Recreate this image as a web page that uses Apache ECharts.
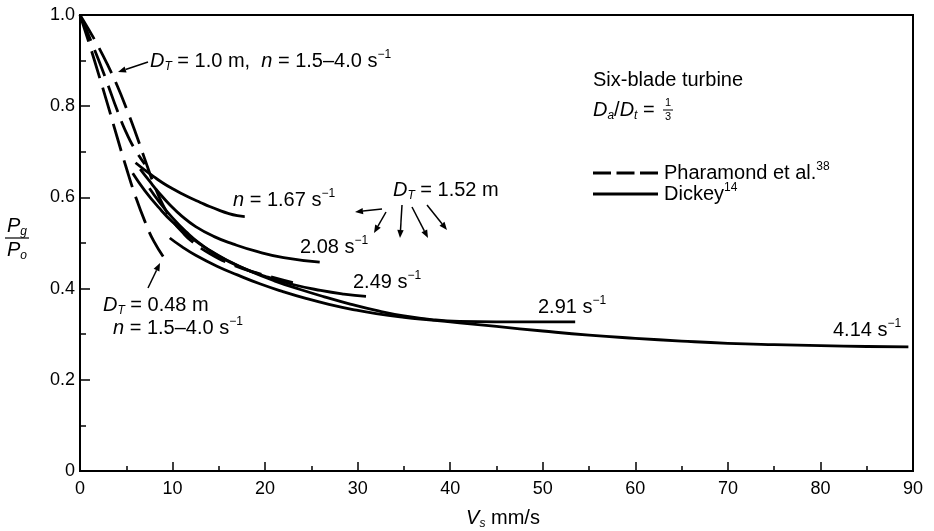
<!DOCTYPE html>
<html>
<head>
<meta charset="utf-8">
<script src="https://cdn.jsdelivr.net/npm/echarts@6/dist/echarts.min.js"></script>
<style>html,body{margin:0;padding:0;background:#fff}#c{width:934px;height:531px}</style>
</head>
<body>
<div id="c"></div>
<script>
// ---- data (Vs mm/s, Pg/Po) ----
const xTicks = [0,10,20,30,40,50,60,70,80,90];
const yTicks = [0,0.2,0.4,0.6,0.8,1.0];
// Pharamond et al. (dashed)
const pharamond048 = [[0,1.0],[1,0.937],[2,0.871],[3,0.803],[4,0.733],[5,0.665],[6,0.602],[7,0.548],[8,0.503],[9.4,0.458]];
const pharamond10a = [[0,1.0],[1,0.966],[2,0.93],[3,0.89],[4,0.846],[5,0.796],[6,0.742],[7,0.684],[8,0.628],[9,0.582],[10,0.549],[11,0.525],[12,0.505],[14,0.477],[16.5,0.452],[19,0.435],[23,0.413]];
const pharamond10b = [[0,1.0],[1,0.952],[2,0.902],[3,0.848],[4,0.792],[5,0.742],[6,0.703],[7,0.673]];
// Dickey (solid), D_T = 1.52 m
const dickey167 = [[6.0,0.676],[7,0.66],[8,0.645],[9,0.631],[10,0.619],[11,0.608],[12,0.598],[13,0.589],[14,0.58],[15,0.572],[16,0.565],[17,0.56],[17.8,0.558]];
const dickey208 = [[6.5,0.662],[7.5,0.636],[8.5,0.611],[9.7,0.584],[11,0.559],[12.5,0.536],[14.5,0.514],[16.5,0.498],[19,0.482],[22,0.468],[25.9,0.458]];
const dickey249 = [[7.5,0.62],[8.5,0.592],[10,0.555],[11.5,0.524],[13,0.498],[15,0.471],[17.5,0.446],[20,0.427],[23,0.409],[26,0.396],[28.5,0.388],[30.9,0.383]];
const dickey291 = [[5.7,0.653],[7,0.615],[8.5,0.578],[10,0.546],[12,0.512],[14,0.484],[16,0.461],[18.4,0.438],[21,0.417],[23.8,0.398],[26.4,0.382],[29.2,0.366],[32,0.352],[35,0.34],[38,0.332],[41,0.328],[45,0.327],[50,0.327],[53.5,0.327]];
const dickey414 = [[9.7,0.511],[11,0.492],[12.5,0.473],[14.8,0.449],[17,0.43],[19.5,0.41],[22,0.393],[24.5,0.378],[27,0.365],[29.5,0.354],[32,0.345],[35,0.337],[38,0.331],[41,0.325],[45,0.317],[50,0.307],[55,0.298],[60,0.291],[65,0.285],[70,0.28],[75,0.277],[80,0.275],[85,0.273],[89.5,0.272]];

const FONT = '"Liberation Sans", Arial, Helvetica, sans-serif';
const FS = 20;
const rich = {
  r:   {fontSize:FS, lineHeight:24, fontFamily:FONT, fill:'#000'},
  i:   {fontSize:FS, lineHeight:24, fontFamily:FONT, fontStyle:'italic', fill:'#000'},
  sub: {fontSize:12, lineHeight:24, fontFamily:FONT, fontStyle:'italic', verticalAlign:'bottom', fill:'#000'},
  sup: {fontSize:12, lineHeight:24, fontFamily:FONT, verticalAlign:'top', fill:'#000'}
};
function txt(x,y,text,align){
  return {type:'text', x:x, y:y, silent:true, style:{text:text, rich:rich, align:align||'left', verticalAlign:'middle', fontFamily:FONT, fontSize:FS, fill:'#000'}};
}
function arrow(x1,y1,x2,y2){
  const a=Math.atan2(y2-y1,x2-x1), L=8, W=3.2;
  const bx=x2-L*Math.cos(a), by=y2-L*Math.sin(a);
  return [
    {type:'line', silent:true, shape:{x1:x1,y1:y1,x2:bx,y2:by}, style:{stroke:'#000', lineWidth:1.5}},
    {type:'polygon', silent:true, shape:{points:[[x2,y2],[bx+W*Math.sin(a),by-W*Math.cos(a)],[bx-W*Math.sin(a),by+W*Math.cos(a)]]}, style:{fill:'#000'}}
  ];
}
function mkLine(name,data,dashed){
  return {name:name, type:'line', data:data, showSymbol:false, symbol:'none', smooth:0.5,
    lineStyle:{color:'#000', width:2.8, type: dashed ? [28,10] : 'solid', cap:'butt', join:'round'}, silent:true, z:3};
}

const chart = echarts.init(document.getElementById('c'), null, {renderer:'canvas'});
const graphics = [
  txt(150,61,'{i|D}{sub|T}{r| = 1.0 m,  }{i|n}{r| = 1.5–4.0 s}{sup|−1}'),
  txt(593,80,'{r|Six-blade turbine}'),
  txt(593,110,'{i|D}{sub|a}{r|/}{i|D}{sub|t}{r| = }'),
  {type:'text', x:668, y:103, silent:true, style:{text:'1', align:'center', verticalAlign:'middle', fontSize:11, fontFamily:FONT, fill:'#000'}},
  {type:'line', silent:true, shape:{x1:663,y1:110,x2:673,y2:110}, style:{stroke:'#000', lineWidth:1}},
  {type:'text', x:668, y:117, silent:true, style:{text:'3', align:'center', verticalAlign:'middle', fontSize:11, fontFamily:FONT, fill:'#000'}},
  {type:'line', silent:true, shape:{x1:593,y1:173,x2:658,y2:173}, style:{stroke:'#000', lineWidth:2.8, lineDash:[18,5.5]}},
  txt(664,173,'{r|Pharamond et al.}{sup|38}'),
  {type:'line', silent:true, shape:{x1:593,y1:194,x2:658,y2:194}, style:{stroke:'#000', lineWidth:2.8}},
  txt(664,194,'{r|Dickey}{sup|14}'),
  txt(233,200,'{i|n}{r| = 1.67 s}{sup|−1}'),
  txt(393,190,'{i|D}{sub|T}{r| = 1.52 m}'),
  txt(300,247,'{r|2.08 s}{sup|−1}'),
  txt(353,282,'{r|2.49 s}{sup|−1}'),
  txt(538,307,'{r|2.91 s}{sup|−1}'),
  txt(833,330,'{r|4.14 s}{sup|−1}'),
  txt(103,305,'{i|D}{sub|T}{r| = 0.48 m}'),
  txt(113,328,'{i|n}{r| = 1.5–4.0 s}{sup|−1}'),
  // y axis name as fraction
  txt(17,226,'{i|P}{sub|g}','center'),
  {type:'line', silent:true, shape:{x1:5,y1:238,x2:29,y2:238}, style:{stroke:'#000', lineWidth:1.2}},
  txt(17,250,'{i|P}{sub|o}','center'),
  txt(503,518,'{i|V}{sub|s}{r| mm/s}','center')
].concat(
  arrow(148,62,118,72),
  arrow(148,288,160,263),
  arrow(382,209,355,212),
  arrow(386,212,374,233),
  arrow(402,205,400,238),
  arrow(412,207,428,238),
  arrow(427,205,447,230)
);

chart.setOption({
  animation:false,
  backgroundColor:'#fff',
  grid:{left:80, right:21, top:15, bottom:60, show:true, borderColor:'#000', borderWidth:2, backgroundColor:'transparent'},
  xAxis:{type:'value', min:0, max:90, interval:10,
    axisLine:{lineStyle:{color:'#000', width:2}},
    axisTick:{inside:true, length:9, lineStyle:{color:'#000', width:1.5}},
    minorTick:{show:true, splitNumber:2, length:5, lineStyle:{color:'#000', width:1.5}},
    splitLine:{show:false},
    axisLabel:{color:'#000', fontSize:18, fontFamily:FONT, margin:9,
      formatter:function(v){ return xTicks.indexOf(v)>=0 ? String(v) : ''; }}
  },
  yAxis:{type:'value', min:0, max:1.0, interval:0.2,
    axisLine:{lineStyle:{color:'#000', width:2}},
    axisTick:{inside:true, length:10, lineStyle:{color:'#000', width:1.5}},
    minorTick:{show:true, splitNumber:2, length:6, lineStyle:{color:'#000', width:1.5}},
    splitLine:{show:false},
    axisLabel:{color:'#000', fontSize:18, fontFamily:FONT, margin:5,
      formatter:function(v){ const t=yTicks.find(function(k){return Math.abs(k-v)<1e-9;}); return t===0 ? '0' : t.toFixed(1); }}
  },
  series:[
    mkLine('D_T = 0.48 m (Pharamond)', pharamond048, true),
    mkLine('D_T = 1.0 m a (Pharamond)', pharamond10a, true),
    mkLine('D_T = 1.0 m b (Pharamond)', pharamond10b, true),
    mkLine('n = 1.67 (Dickey)', dickey167, false),
    mkLine('n = 2.08 (Dickey)', dickey208, false),
    mkLine('n = 2.49 (Dickey)', dickey249, false),
    mkLine('n = 2.91 (Dickey)', dickey291, false),
    mkLine('n = 4.14 (Dickey)', dickey414, false)
  ],
  graphic:graphics
});
</script>
</body>
</html>
